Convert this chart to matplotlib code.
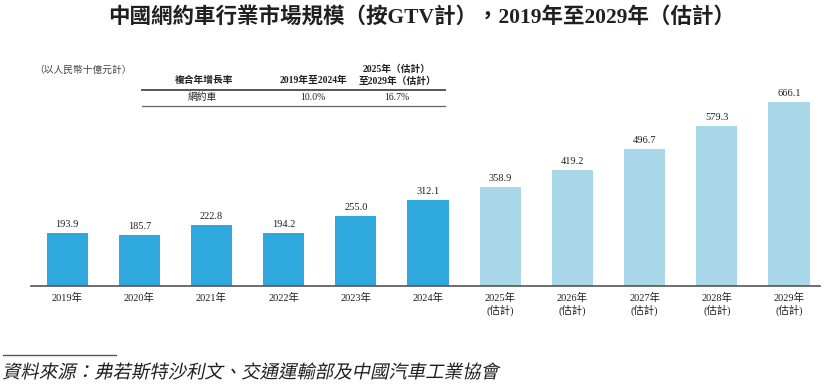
import matplotlib
matplotlib.use("Agg")
import matplotlib.pyplot as plt
from matplotlib.textpath import TextPath
from matplotlib.patches import PathPatch
from matplotlib.font_manager import FontProperties
from matplotlib.transforms import Affine2D, IdentityTransform
import numpy as np

plt.rcParams['font.family'] = ['Liberation Serif', 'Noto Sans CJK TC', 'DejaVu Sans']

years = ["2019年", "2020年", "2021年", "2022年", "2023年", "2024年",
         "2025年\n(估計)", "2026年\n(估計)", "2027年\n(估計)", "2028年\n(估計)", "2029年\n(估計)"]
values = [193.9, 185.7, 222.8, 194.2, 255.0, 312.1, 358.9, 419.2, 496.7, 579.3, 666.1]
n_actual = 6

title = "中國網約車行業市場規模（按GTV計），2019年至2029年（估計）"
unit_note = "（以人民幣十億元計）"
cagr_header = ["複合年增長率", "2019年至2024年", "2025年（估計）\n至2029年（估計）"]
cagr_row = ["網約車", "10.0%", "16.7%"]
source = "資料來源：弗若斯特沙利文、交通運輸部及中國汽車工業協會"

W, H = 831, 387
dark = "#2fa8dd"
light = "#a8d8ea"
txt = "#231f20"


def px(x, y):
    return x / W, 1 - y / H


fig = plt.figure(figsize=(W / 100, H / 100), dpi=100)
ax = fig.add_axes([31 / W, 1 - 286.3 / H, (820 - 31) / W, (286.3 - 90) / H])

x = np.arange(len(values))
colors = [dark if i < n_actual else light for i in range(len(values))]
ax.bar(x, values, width=0.57, color=colors)
for xi, v in zip(x, values):
    ax.text(xi, v + 14, f"{v:.1f}", ha="center", va="bottom", fontsize=7.5, color=txt)

ax.set_xlim(-0.5, 10.43)
ax.set_ylim(0, 709)
ax.set_xticks(x)
ax.set_xticklabels(years, fontsize=7.5, color=txt, linespacing=1.1)
ax.tick_params(axis="x", length=0, pad=5)
ax.set_yticks([])
for s in ["top", "right", "left"]:
    ax.spines[s].set_visible(False)
ax.spines["bottom"].set_color("#555555")
ax.spines["bottom"].set_linewidth(1.2)

# title
fig.text(*px(422, 18), title, ha="center", va="center", fontsize=15.5, fontweight="bold", color=txt)

# unit note and CAGR table
fig.text(*px(34, 70), unit_note, ha="left", va="center", fontsize=7, color="#444444")
fig.text(*px(204, 80.5), cagr_header[0], ha="center", va="center", fontsize=7, fontweight="bold", color=txt)
fig.text(*px(313, 80.5), cagr_header[1], ha="center", va="center", fontsize=7, fontweight="bold", color=txt)
fig.text(*px(397, 75), cagr_header[2], ha="center", va="center", fontsize=7, fontweight="bold", color=txt,
         linespacing=1.35)
fig.text(*px(202, 97.5), cagr_row[0], ha="center", va="center", fontsize=7, color=txt)
fig.text(*px(313, 97.5), cagr_row[1], ha="center", va="center", fontsize=7, color=txt)
fig.text(*px(397, 97.5), cagr_row[2], ha="center", va="center", fontsize=7, color=txt)
fig.add_artist(plt.Line2D([142 / W, 445 / W], [1 - 89.7 / H] * 2, color="#555555", lw=1.4))
fig.add_artist(plt.Line2D([142 / W, 445 / W], [1 - 106.3 / H] * 2, color="#666666", lw=0.9))

# source, slanted like the italic original
fig.add_artist(plt.Line2D([3 / W, 116 / W], [1 - 355 / H] * 2, color="#555555", lw=1.0))
tp = TextPath((0, 0), source, size=18.4, prop=FontProperties(family="Noto Sans CJK TC"))
src_tr = Affine2D().skew_deg(12, 0).translate(2, H - 378) + IdentityTransform()
fig.add_artist(PathPatch(tp, transform=src_tr, facecolor=txt, edgecolor="none"))

fig.savefig("out.png", dpi=100)
